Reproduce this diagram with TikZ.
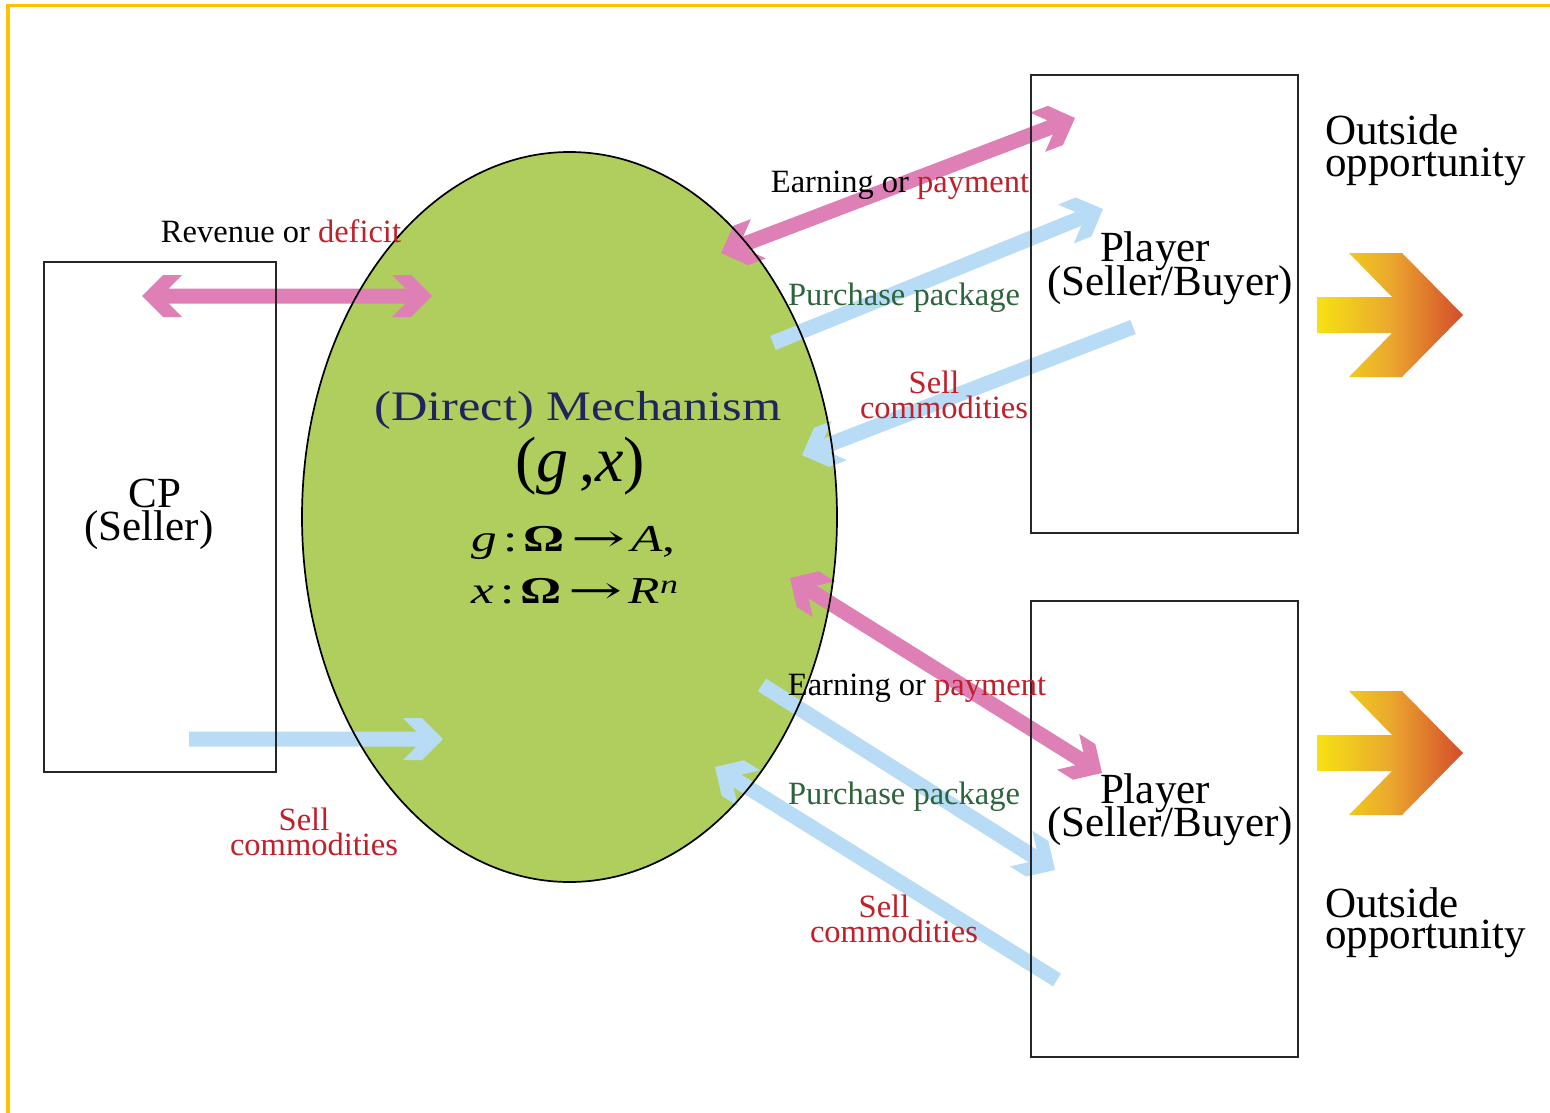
\documentclass[tikz,border=0pt]{standalone}
\usepackage{fontspec}
\usepackage{graphicx}
\setmainfont{Liberation Serif}
\newfontfamily\mechfont[FakeStretch=1.2]{Liberation Serif}
\newfontfamily\eqfont[FakeStretch=1.35]{Liberation Serif}
\newfontfamily\arrfont{DejaVu Serif}
\usetikzlibrary{shapes.geometric,calc}
\definecolor{mechgreen}{RGB}{175,206,94}
\definecolor{pinkarr}{RGB}{222,128,182}
\definecolor{bluearr}{RGB}{184,220,245}
\definecolor{redtxt}{RGB}{192,32,42}
\definecolor{greentxt}{RGB}{45,100,60}
\definecolor{navytxt}{RGB}{32,38,92}
\definecolor{framey}{RGB}{255,192,0}
\definecolor{oyel}{RGB}{246,226,20}
\definecolor{oora}{RGB}{234,168,45}
\definecolor{ored}{RGB}{212,76,44}
\def\sw{7.5pt}
\def\hw{21pt}
% single-headed fat arrow: colour, tail, tip
\newcommand\fatarrow[3]{%
  \path ($(#3)!26.5pt!(#2)$) coordinate (fb-n)
        ($(#3)!40pt!(#2)$) coordinate (fb-c)
        ($(#3)!21pt!(#2)$) coordinate (fb-b);
  \fill[#1] ($(#2)!\sw!90:(#3)$) -- ($(fb-n)!\sw!90:(#3)$) -- ($(fb-c)!\hw!90:(#3)$)
     -- ($(fb-b)!\hw!90:(#3)$) -- (#3) -- ($(fb-b)!\hw!-90:(#3)$)
     -- ($(fb-c)!\hw!-90:(#3)$) -- ($(fb-n)!\sw!-90:(#3)$) -- ($(#2)!\sw!-90:(#3)$) -- cycle;}
% double-headed fat arrow: colour, end A, end B
\newcommand\fatdarrow[3]{%
  \path ($(#3)!26.5pt!(#2)$) coordinate (fb-n)
        ($(#3)!40pt!(#2)$) coordinate (fb-c)
        ($(#3)!21pt!(#2)$) coordinate (fb-b)
        ($(#2)!26.5pt!(#3)$) coordinate (fa-n)
        ($(#2)!40pt!(#3)$) coordinate (fa-c)
        ($(#2)!21pt!(#3)$) coordinate (fa-b);
  \fill[#1] (#2) -- ($(fa-b)!\hw!90:(#3)$) -- ($(fa-c)!\hw!90:(#3)$) -- ($(fa-n)!\sw!90:(#3)$)
     -- ($(fb-n)!\sw!90:(#3)$) -- ($(fb-c)!\hw!90:(#3)$) -- ($(fb-b)!\hw!90:(#3)$) -- (#3)
     -- ($(fb-b)!\hw!-90:(#3)$) -- ($(fb-c)!\hw!-90:(#3)$) -- ($(fb-n)!\sw!-90:(#3)$)
     -- ($(fa-n)!\sw!-90:(#3)$) -- ($(fa-c)!\hw!-90:(#3)$) -- ($(fa-b)!\hw!-90:(#3)$) -- cycle;}
\begin{document}
\begin{tikzpicture}[x=1pt,y=-1pt,
  boxline/.style={draw=black!85, line width=2pt},
  lab/.style={inner sep=0pt, anchor=base, font=\fontsize{32.5}{32}\selectfont},
  big/.style={inner sep=0pt, anchor=base, font=\fontsize{43}{40}\selectfont},
  outlab/.style={inner sep=0pt, anchor=base west, font=\fontsize{43}{40}\selectfont},
  chev/.style={left color=oyel, right color=ored, middle color=oora}]
\useasboundingbox (0,0) rectangle (1550,1113);
\fill[white] (0,0) rectangle (1550,1113);
\draw[framey, line width=3.5pt] (8,1113) -- (8,5.5) -- (1550,5.5);

% main shapes
\node[ellipse, fill=mechgreen, inner sep=0pt, minimum width=535pt, minimum height=730pt] (mech) at (569.5,517) {};
\node[inner sep=0pt, minimum width=232pt, minimum height=510pt] (cp) at (160,517) {};
\node[inner sep=0pt, minimum width=267pt, minimum height=458pt] (pl1) at (1164.5,304) {};
\node[inner sep=0pt, minimum width=267pt, minimum height=456pt] (pl2) at (1164.5,829) {};

% arrow end points
\coordinate (rv1) at (142,296);  \coordinate (rv2) at (432,296);
\coordinate (cs1) at (189,739);  \coordinate (cs2) at (443,739);
\coordinate (et1) at (721,253);  \coordinate (et2) at (1075,118);
\coordinate (pt1) at (773,343);  \coordinate (pt2) at (1103,209);
\coordinate (st1) at (1133,327); \coordinate (st2) at (802,455);
\coordinate (eb1) at (790,578);  \coordinate (eb2) at (1102,773);
\coordinate (pb1) at (762,685);  \coordinate (pb2) at (1055,870);
\coordinate (sb1) at (1057,980); \coordinate (sb2) at (715,767);

\fatdarrow{pinkarr}{rv1}{rv2}
\fatarrow{bluearr}{cs1}{cs2}
\fatdarrow{pinkarr}{et1}{et2}
\fatarrow{bluearr}{pt1}{pt2}
\fatarrow{bluearr}{st1}{st2}
\fatdarrow{pinkarr}{eb1}{eb2}
\fatarrow{bluearr}{pb1}{pb2}
\fatarrow{bluearr}{sb1}{sb2}

% outlines on top
\draw[line width=1.7pt] (mech.center) ellipse [x radius=267.5pt, y radius=365pt];
\draw[boxline] (cp.north west) rectangle (cp.south east);
\draw[boxline] (pl1.north west) rectangle (pl1.south east);
\draw[boxline] (pl2.north west) rectangle (pl2.south east);

% orange outside-opportunity arrows
\shade[chev] (1317,297) -- (1392,297) -- (1349,253) -- (1402,253) -- (1463,315)
  -- (1402,377) -- (1349,377) -- (1392,333) -- (1317,333) -- cycle;
\shade[chev] (1317,735) -- (1392,735) -- (1349,691) -- (1402,691) -- (1463,753)
  -- (1402,815) -- (1349,815) -- (1392,771) -- (1317,771) -- cycle;

% box texts
\node[big] (cpa) at (155,507) {CP};
\node[big] (cpb) at (149,540) {(Seller)};
\node[big] (p1a) at (1155,261) {Player};
\node[big] (p1b) at (1170,295) {(Seller/Buyer)};
\node[big] (p2a) at (1155,803) {Player};
\node[big] (p2b) at (1170,836) {(Seller/Buyer)};
\node[outlab] (o1a) at (1325,145) {Outside};
\node[outlab] (o1b) at (1325,176) {opportunity};
\node[outlab] (o2a) at (1325,917) {Outside};
\node[outlab] (o2b) at (1325,948) {opportunity};

% mechanism texts
\node[inner sep=0pt, anchor=base, text=navytxt, font=\mechfont\fontsize{42}{44}\selectfont] (mt) at (578,420) {(Direct) Mechanism};
\node[inner sep=0pt, anchor=base, font=\fontsize{64}{66}\selectfont] (gx) at (580,481) {(\textit{g}\,,\textit{x})};
\node[inner sep=0pt, anchor=base west, font=\eqfont\fontsize{38}{40}\selectfont] (eq1) at (471,551)
  {\textit{g}\,:\,\textbf{Ω}\,\scalebox{1.7}[1]{\arrfont →}\,\textit{A},};
\node[inner sep=0pt, anchor=base west, font=\eqfont\fontsize{38}{40}\selectfont] (eq2) at (471,603)
  {\textit{x}\,:\,\textbf{Ω}\,\scalebox{1.7}[1]{\arrfont →}\,\textit{R}\textsuperscript{\textit{n}}};

% arrow labels
\node[lab] (lrev) at (281,242) {Revenue or \textcolor{redtxt}{deficit}};
\node[lab] (let) at (900,193) {Earning or \textcolor{redtxt}{payment}};
\node[lab, text=greentxt] (lpt) at (904,305) {Purchase package};
\node[lab, text=redtxt] (lsta) at (934,393) {Sell};
\node[lab, text=redtxt] (lstb) at (944,418) {commodities};
\node[lab] (leb) at (917,695) {Earning or \textcolor{redtxt}{payment}};
\node[lab, text=greentxt] (lpb) at (904,804) {Purchase package};
\node[lab, text=redtxt] (lsba) at (884,917) {Sell};
\node[lab, text=redtxt] (lsbb) at (894,942) {commodities};
\node[lab, text=redtxt] (lcsa) at (304,830) {Sell};
\node[lab, text=redtxt] (lcsb) at (314,855) {commodities};
\end{tikzpicture}
\end{document}
